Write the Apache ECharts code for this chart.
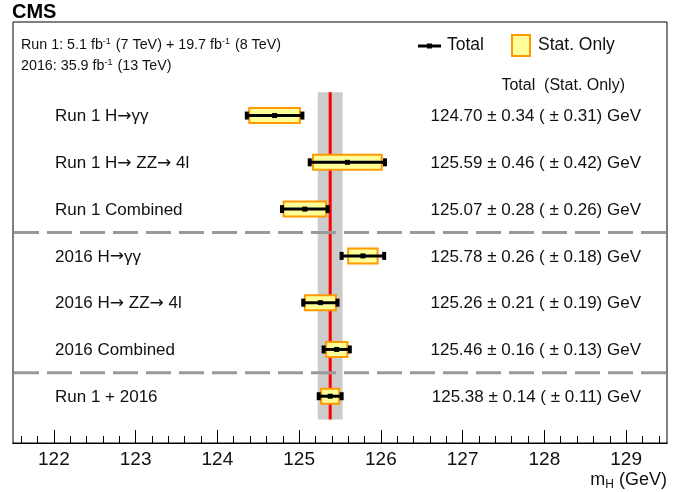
<!DOCTYPE html>
<html><head><meta charset="utf-8">
<script src="https://cdn.jsdelivr.net/npm/echarts@6/dist/echarts.min.js"></script>
<style>html,body{margin:0;padding:0;background:#fff}#c{width:684px;height:492px}</style>
</head><body><div id="c"></div>
<script>
const names = ['Run 1 H{a|\u2192}\u03b3\u03b3', 'Run 1 H{a|\u2192} ZZ{a|\u2192} 4l', 'Run 1 Combined', '2016 H{a|\u2192}\u03b3\u03b3', '2016 H{a|\u2192} ZZ{a|\u2192} 4l', '2016 Combined', 'Run 1 + 2016'];
const centralValues = [124.70, 125.59, 125.07, 125.78, 125.26, 125.46, 125.38];
const totalErrors = [0.34, 0.46, 0.28, 0.26, 0.21, 0.16, 0.14];
const statErrors = [0.31, 0.42, 0.26, 0.18, 0.19, 0.13, 0.11];
const rowPositions = [2, 3, 4, 5, 6, 7, 8];
const separatorRows = [4.5, 7.5];
const xTicks = [122, 123, 124, 125, 126, 127, 128, 129];
const xMinorTicks = [121.6, 121.8, 122.2, 122.4, 122.6, 122.8, 123.2, 123.4, 123.6, 123.8, 124.2, 124.4, 124.6, 124.8,
  125.2, 125.4, 125.6, 125.8, 126.2, 126.4, 126.6, 126.8, 127.2, 127.4, 127.6, 127.8, 128.2, 128.4, 128.6, 128.8, 129.2, 129.4];
const combinedIndex = 6;

const FONT = 'Liberation Sans, Arial, sans-serif';
const rows = names.map((n, i) => [rowPositions[i], centralValues[i], totalErrors[i], statErrors[i], i]);
const fmt = (i) => centralValues[i].toFixed(2) + ' \u00b1 ' + totalErrors[i].toFixed(2) + ' ( \u00b1 ' + statErrors[i].toFixed(2) + ') GeV';

const chart = echarts.init(document.getElementById('c'), null, {renderer: 'canvas'});
const baseX = {
  type: 'value', min: 121.5, max: 129.5, position: 'bottom',
  axisLine: {show: true, onZero: false, lineStyle: {color: '#000', width: 1}},
  splitLine: {show: false}
};
chart.setOption({
  animation: false,
  grid: {left: 13, top: 22, right: 17, bottom: 49, show: true, borderColor: '#000', borderWidth: 1, backgroundColor: 'transparent'},
  xAxis: [Object.assign({}, baseX, {
    axisTick: {show: true, inside: true, length: 13, lineStyle: {color: '#000'}, customValues: xTicks},
    axisLabel: {fontFamily: FONT, fontSize: 19, color: '#111', margin: 7, customValues: xTicks, formatter: v => String(v)},
    name: '{m|m}{s|H}{m| (GeV)}', nameLocation: 'end', nameGap: 0,
    nameTextStyle: {align: 'right', verticalAlign: 'top', padding: [26, 0, 0, 0],
      rich: {m: {fontFamily: FONT, fontSize: 18, color: '#111'}, s: {fontFamily: FONT, fontSize: 12, color: '#111', padding: [10, 0, 0, 0]}}}
  }), Object.assign({}, baseX, {
    axisTick: {show: true, inside: true, length: 7, lineStyle: {color: '#000'}, customValues: xMinorTicks},
    axisLabel: {show: false}
  })],
  yAxis: {type: 'value', min: 0, max: 9, inverse: true, show: false},
  graphic: [
    {type: 'text', left: 12, top: 2, style: {text: 'CMS', fontFamily: FONT, fontWeight: 'bold', fontSize: 20, fill: '#000'}},
    {type: 'text', left: 21, top: 37, style: {
      text: 'Run 1: 5.1 fb{s|-1} (7 TeV) + 19.7 fb{s|-1} (8 TeV)',
      fontFamily: FONT, fontSize: 14.3, fill: '#111',
      rich: {s: {fontSize: 9, verticalAlign: 'top', padding: [0, 1, 8, 0], fontFamily: FONT, fill: '#111'}}}},
    {type: 'text', left: 21, top: 58, style: {
      text: '2016: 35.9 fb{s|-1} (13 TeV)',
      fontFamily: FONT, fontSize: 14.3, fill: '#111',
      rich: {s: {fontSize: 9, verticalAlign: 'top', padding: [0, 1, 8, 0], fontFamily: FONT, fill: '#111'}}}},
    {type: 'line', shape: {x1: 418, y1: 46, x2: 441, y2: 46}, style: {stroke: '#000', lineWidth: 3}},
    {type: 'rect', shape: {x: 427, y: 43.5, width: 5, height: 5}, style: {fill: '#000'}},
    {type: 'text', left: 447, top: 36, style: {text: 'Total', fontFamily: FONT, fontSize: 17.5, fill: '#111'}},
    {type: 'rect', shape: {x: 512, y: 35, width: 18, height: 21}, style: {fill: '#ffff99', stroke: '#ff9900', lineWidth: 2}},
    {type: 'text', left: 538, top: 36, style: {text: 'Stat. Only', fontFamily: FONT, fontSize: 17.5, fill: '#111'}},
    {type: 'text', right: 59, top: 78, style: {text: 'Total  (Stat. Only)', fontFamily: FONT, fontSize: 16, fill: '#111', textAlign: 'right'}}
  ],
  series: [
    {
      type: 'custom', z: 1, data: [[centralValues[combinedIndex], totalErrors[combinedIndex]]],
      renderItem(params, api) {
        const v = api.value(0), e = api.value(1);
        const a = api.coord([v - e, rowPositions[0] - 0.5]);
        const b = api.coord([v + e, rowPositions[rowPositions.length - 1] + 0.5]);
        const c = api.coord([v, 0]);
        return {type: 'group', children: [
          {type: 'rect', shape: {x: a[0] - 1, y: a[1], width: b[0] - a[0] + 2, height: b[1] - a[1]}, style: {fill: '#cccccc'}},
          {type: 'line', shape: {x1: c[0], y1: a[1], x2: c[0], y2: b[1]}, style: {stroke: '#ff0000', lineWidth: 3}}
        ]};
      }
    },
    {
      type: 'custom', z: 2, data: separatorRows.map(r => [r]),
      renderItem(params, api) {
        const l = api.coord([121.5, api.value(0)]);
        const r = api.coord([129.5, api.value(0)]);
        return {type: 'line', shape: {x1: l[0] + 1, y1: l[1], x2: r[0] - 1, y2: r[1]}, style: {stroke: '#999999', lineWidth: 3, lineDash: [25, 8]}};
      }
    },
    {
      type: 'custom', z: 3, data: rows,
      renderItem(params, api) {
        const row = api.value(0), v = api.value(1), t = api.value(2), s = api.value(3), i = api.value(4);
        const c = api.coord([v, row]);
        const l = api.coord([v - t, row]), r = api.coord([v + t, row]);
        const sl = api.coord([v - s, row]), sr = api.coord([v + s, row]);
        const y = c[1];
        return {type: 'group', children: [
          {type: 'rect', shape: {x: sl[0], y: y - 7.5, width: sr[0] - sl[0], height: 15}, style: {fill: '#ffff99', stroke: '#ff9900', lineWidth: 2}},
          {type: 'line', shape: {x1: l[0], y1: y, x2: r[0], y2: y}, style: {stroke: '#000', lineWidth: 3}},
          {type: 'rect', shape: {x: l[0] - 2, y: y - 4, width: 4, height: 8}, style: {fill: '#000'}},
          {type: 'rect', shape: {x: r[0] - 2, y: y - 4, width: 4, height: 8}, style: {fill: '#000'}},
          {type: 'rect', shape: {x: c[0] - 2.5, y: y - 2.5, width: 5, height: 5}, style: {fill: '#000'}},
          {type: 'text', style: {x: 55, y: y + 1, text: names[i], fontFamily: FONT, fontSize: 17, fill: '#111', verticalAlign: 'middle', textAlign: 'left',
            rich: {a: {fontFamily: 'DejaVu Sans', fontSize: 17, fill: '#111', padding: [0, 0, 0, 0]}}}},
          {type: 'text', style: {x: 641, y: y + 1, text: fmt(i), fontFamily: FONT, fontSize: 17, fill: '#111', verticalAlign: 'middle', textAlign: 'right'}}
        ]};
      }
    }
  ]
});
</script></body></html>
